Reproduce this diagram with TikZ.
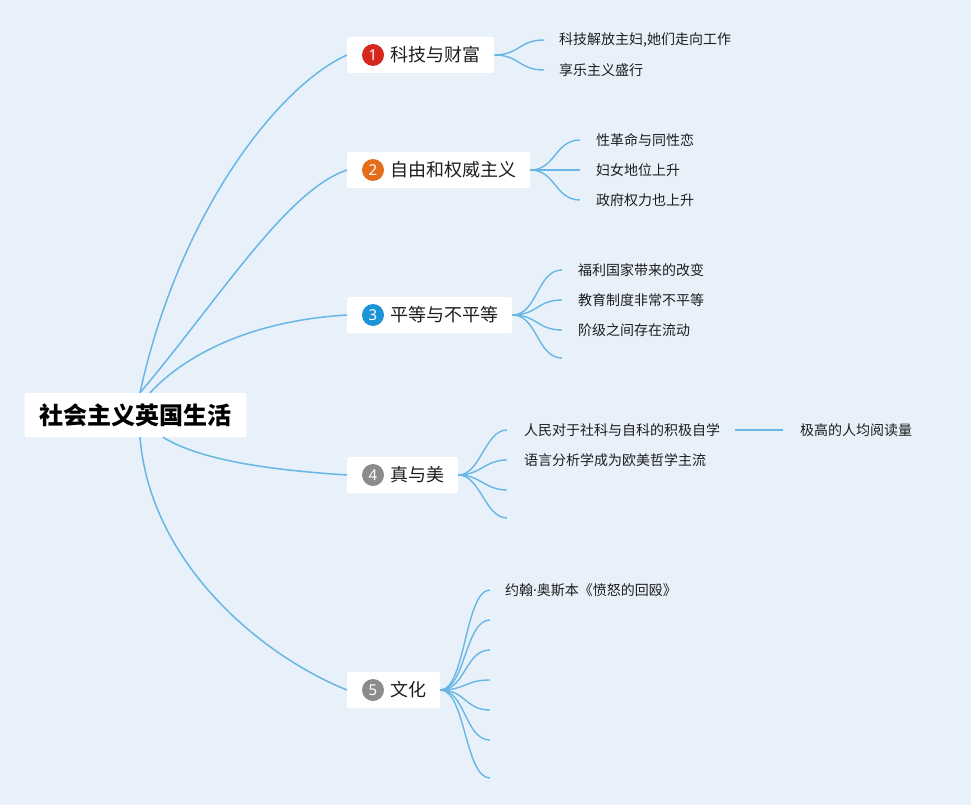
\documentclass[tikz,border=0pt]{standalone}
\usepackage{fontspec}
\setmainfont{Noto Sans CJK SC}
\newfontfamily\latinf{Noto Sans}
\definecolor{bg}{RGB}{232,241,250}
\definecolor{ln}{RGB}{104,182,228}
\definecolor{cA}{RGB}{214,40,28}
\definecolor{cB}{RGB}{228,108,26}
\definecolor{cC}{RGB}{28,148,214}
\definecolor{cD}{RGB}{140,140,140}
\definecolor{txt}{RGB}{30,30,30}
\begin{document}
\begin{tikzpicture}[x=1pt,y=-1pt,
  conn/.style={draw=ln,line width=1.5pt},
  leafconn/.style={draw=ln,line width=1.4pt},
  topicbox/.style={fill=white,rounded corners=2pt,inner xsep=0pt,inner ysep=0pt,
    minimum height=36pt,anchor=west,text=txt,font=\fontsize{18}{18}\selectfont},
  numc/.style={circle,inner sep=0pt,minimum size=22pt,text=white,
    font=\latinf\fontsize{15}{15}\selectfont},
  leaf/.style={anchor=west,inner sep=0pt,text=txt,font=\fontsize{14}{14}\selectfont},
  rootbox/.style={fill=white,rounded corners=2pt,inner xsep=15pt,inner ysep=0pt,
    minimum height=44pt,text=black,font=\fontsize{24}{24}\selectfont\bfseries}]

\fill[bg] (0,0) rectangle (971,805);
\useasboundingbox (0,0) rectangle (971,805);

% root and topics
\node[rootbox] (root) at (135.5,415) {社会主义英国生活};
\node[topicbox] (t1) at (347,55)  {\hspace*{43pt}科技与财富\hspace*{14pt}};
\node[topicbox] (t2) at (347,170) {\hspace*{43pt}自由和权威主义\hspace*{14pt}};
\node[topicbox] (t3) at (347,315) {\hspace*{43pt}平等与不平等\hspace*{14pt}};
\node[topicbox] (t4) at (347,475) {\hspace*{43pt}真与美\hspace*{14pt}};
\node[topicbox] (t5) at (347,690) {\hspace*{43pt}文化\hspace*{14pt}};

\node[numc,fill=cA] (n1) at ([xshift=26pt]t1.west) {1};
\node[numc,fill=cB] (n2) at ([xshift=26pt]t2.west) {2};
\node[numc,fill=cC] (n3) at ([xshift=26pt]t3.west) {3};
\node[numc,fill=cD] (n4) at ([xshift=26pt]t4.west) {4};
\node[numc,fill=cD] (n5) at ([xshift=26pt]t5.west) {5};

% root anchor points
\coordinate (rt1) at ([xshift=4.5pt]root.north);
\coordinate (rt3) at ([xshift=14.5pt]root.north);
\coordinate (rb4) at ([xshift=27.5pt]root.south);
\coordinate (rb5) at ([xshift=4.5pt]root.south);

\draw[conn] (rt1) .. controls +(40,-183) and +(-67,30) .. (t1.west);
\draw[conn] (rt1) .. controls +(80,-95) and +(-60,20) .. (t2.west);
\draw[conn] (rt3) .. controls +(40,-43) and +(-87,5) .. (t3.west);
\draw[conn] (rb4) .. controls +(37,23) and +(-77,-5) .. (t4.west);
\draw[conn] (rb5) .. controls +(10,125) and +(-87,-35) .. (t5.west);

% leaves topic 1
\node[leaf] (l11) at (559,40) {科技解放主妇,她们走向工作};
\node[leaf] (l12) at (559,70) {享乐主义盛行};
% topic 2
\node[leaf] (l21) at (596,140) {性革命与同性恋};
\node[leaf] (l22) at (596,170) {妇女地位上升};
\node[leaf] (l23) at (596,200) {政府权力也上升};
% topic 3
\node[leaf] (l31) at (578,270) {福利国家带来的改变};
\node[leaf] (l32) at (578,300) {教育制度非常不平等};
\node[leaf] (l33) at (578,330) {阶级之间存在流动};
\coordinate (e34) at (562,358);
% topic 4
\node[leaf] (l41) at (524,430) {人民对于社科与自科的积极自学};
\node[leaf] (l42) at (524,460) {语言分析学成为欧美哲学主流};
\coordinate (e43) at (507,490);
\coordinate (e44) at (507,518);
\node[leaf] (l4x) at (800,430) {极高的人均阅读量};
% topic 5
\node[leaf] (l51) at (505,590) {约翰{\latinf ·}奥斯本《愤怒的回殴》};
\coordinate (e52) at (490,620);
\coordinate (e53) at (490,650);
\coordinate (e54) at (490,680);
\coordinate (e55) at (490,710);
\coordinate (e56) at (490,740);
\coordinate (e57) at (490,778);

% fans
\foreach \l in {l11,l12}
  \draw[leafconn] (t1.east) .. controls +(25,0) and +(-25,0) .. ([xshift=-15pt]\l.west);
\foreach \l in {l21,l22,l23}
  \draw[leafconn] (t2.east) .. controls +(25,0) and +(-25,0) .. ([xshift=-16pt]\l.west);
\foreach \l in {l31,l32,l33}
  \draw[leafconn] (t3.east) .. controls +(25,0) and +(-25,0) .. ([xshift=-16pt]\l.west);
\draw[leafconn] (t3.east) .. controls +(25,0) and +(-25,0) .. (e34);
\foreach \l in {l41,l42}
  \draw[leafconn] (t4.east) .. controls +(22,0) and +(-22,0) .. ([xshift=-17pt]\l.west);
\foreach \e in {e43,e44}
  \draw[leafconn] (t4.east) .. controls +(22,0) and +(-22,0) .. (\e);
\draw[leafconn] (t5.east) .. controls +(25,0) and +(-25,0) .. ([xshift=-15pt]l51.west);
\foreach \e in {e52,e53,e54,e55,e56,e57}
  \draw[leafconn] (t5.east) .. controls +(25,0) and +(-25,0) .. (\e);

\draw[leafconn] ([xshift=15pt]l41.east) -- ([xshift=-17pt]l4x.west);
\end{tikzpicture}
\end{document}
